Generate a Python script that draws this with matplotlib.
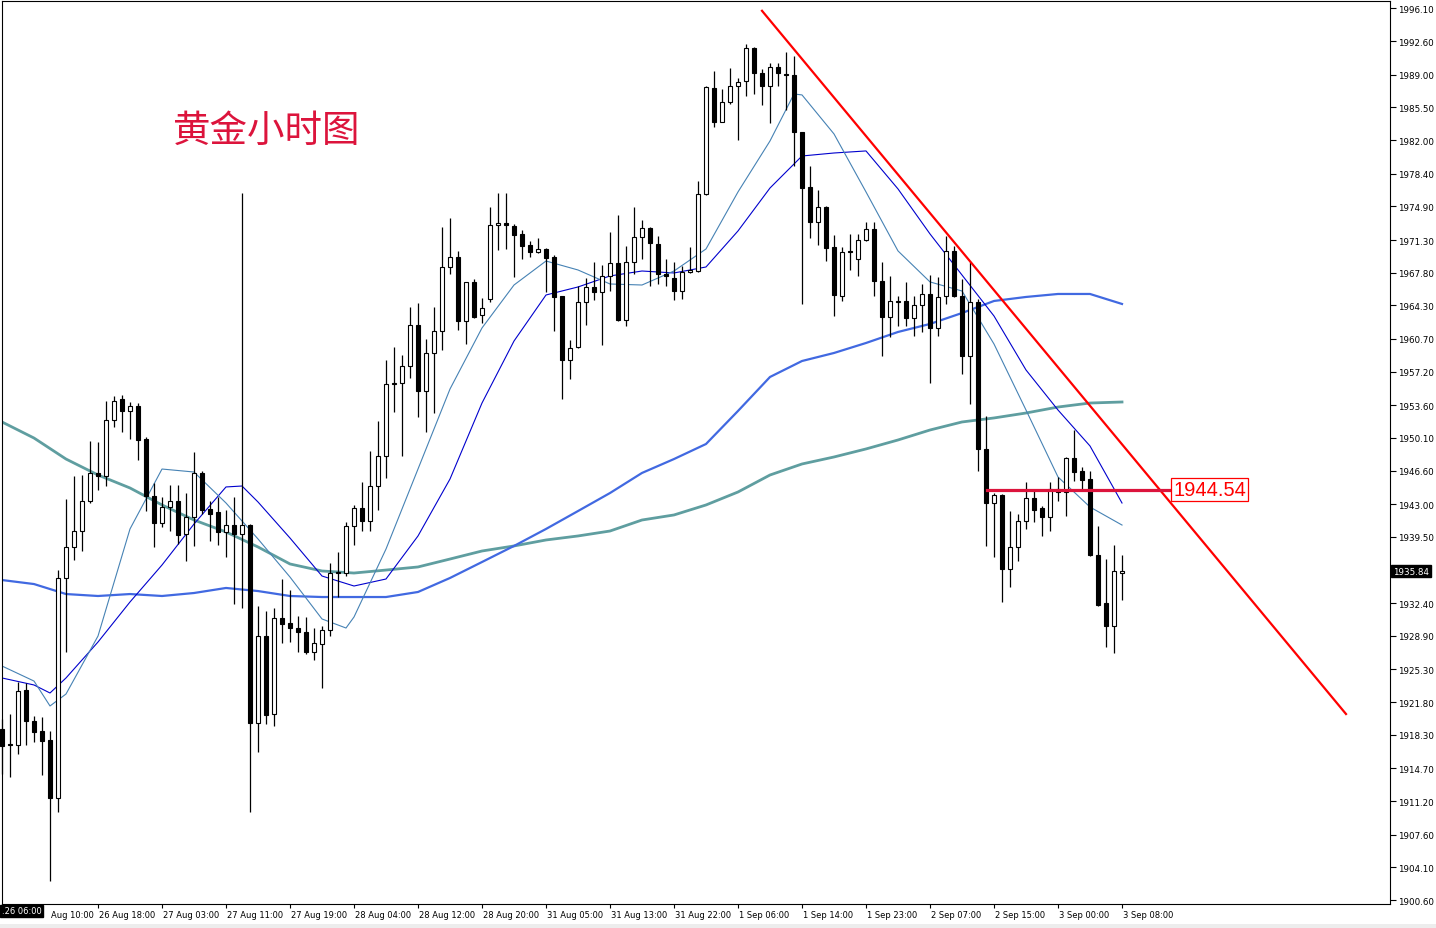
import matplotlib
matplotlib.use("Agg")
import matplotlib.pyplot as plt
from matplotlib.transforms import ScaledTranslation, blended_transform_factory
from matplotlib.patches import Rectangle

# ---------------- data ----------------
opens = [1918.92, 1917.30, 1917.21, 1923.10, 1919.78, 1918.71, 1917.74, 1911.53, 1935.10, 1938.42,
         1940.13, 1943.35, 1946.34, 1946.02, 1952.02, 1954.27, 1952.99, 1953.52, 1949.99, 1943.88,
         1940.99, 1942.70, 1943.35, 1939.81, 1941.63, 1946.34, 1942.49, 1942.17, 1940.02, 1940.77,
         1939.81, 1940.77, 1919.57, 1928.88, 1920.53, 1930.81, 1930.28, 1929.74, 1929.31, 1927.17,
         1928.03, 1929.53, 1935.63, 1935.63, 1940.67, 1942.60, 1941.20, 1944.95, 1948.17, 1955.88,
         1955.95, 1957.81, 1962.20, 1955.13, 1959.20, 1961.56, 1968.41, 1969.48, 1962.63, 1966.81,
         1963.27, 1964.98, 1972.91, 1973.13, 1972.80, 1971.95, 1970.77, 1970.02, 1970.34, 1969.48,
         1965.31, 1958.45, 1959.84, 1964.66, 1966.27, 1965.73, 1967.45, 1968.84, 1962.73, 1968.95,
         1971.63, 1972.59, 1970.88, 1967.66, 1967.23, 1965.84, 1967.88, 1967.98, 1976.23, 1987.59,
         1983.94, 1986.09, 1987.80, 1988.34, 1991.87, 1989.19, 1987.80, 1989.84, 1989.09, 1988.98,
         1982.87, 1976.98, 1973.23, 1974.84, 1970.55, 1965.31, 1970.13, 1969.27, 1971.30, 1972.48,
         1966.91, 1963.06, 1964.70, 1964.77, 1962.95, 1964.34, 1965.52, 1961.88, 1965.31, 1970.13,
         1965.31, 1958.88, 1964.66, 1948.92, 1943.13, 1943.99, 1936.06, 1938.42, 1941.20, 1943.67,
         1942.60, 1941.63, 1944.63, 1944.31, 1947.95, 1946.56, 1945.70, 1937.56, 1932.42, 1929.96,
         1935.64]
highs = [1919.99, 1920.53, 1923.96, 1923.85, 1920.31, 1920.21, 1918.71, 1935.95, 1943.56, 1946.02,
         1946.13, 1949.77, 1949.67, 1954.06, 1954.59, 1954.70, 1953.95, 1953.84, 1950.20, 1945.27,
         1943.77, 1945.06, 1945.06, 1944.20, 1948.59, 1946.56, 1943.35, 1943.77, 1942.38, 1943.77,
         1976.34, 1940.88, 1932.10, 1931.56, 1931.88, 1934.99, 1933.81, 1931.03, 1930.92, 1929.74,
         1929.95, 1936.70, 1937.88, 1941.10, 1942.92, 1945.38, 1948.70, 1951.92, 1958.45, 1959.84,
         1958.99, 1964.13, 1964.56, 1960.70, 1964.13, 1972.70, 1973.66, 1970.13, 1966.85, 1967.13,
         1965.09, 1974.84, 1976.34, 1976.34, 1973.02, 1972.37, 1971.20, 1971.52, 1970.45, 1969.70,
         1965.35, 1960.59, 1966.38, 1967.23, 1968.95, 1968.63, 1972.16, 1973.98, 1970.66, 1974.84,
         1973.45, 1972.70, 1971.73, 1969.27, 1968.95, 1968.52, 1970.55, 1977.62, 1987.80, 1989.41,
         1987.48, 1989.73, 1988.66, 1992.30, 1991.95, 1989.62, 1990.26, 1990.26, 1991.44, 1991.01,
         1982.90, 1979.23, 1976.66, 1974.90, 1971.84, 1970.55, 1971.95, 1971.95, 1973.23, 1973.23,
         1968.95, 1967.45, 1965.31, 1966.81, 1965.31, 1966.59, 1967.55, 1967.34, 1971.73, 1970.66,
         1967.13, 1968.95, 1964.98, 1952.45, 1944.20, 1944.10, 1942.27, 1941.95, 1945.38, 1944.42,
         1942.81, 1945.38, 1945.92, 1948.06, 1950.95, 1946.99, 1946.56, 1940.67, 1937.13, 1938.63,
         1937.56]
lows = [1914.10, 1913.78, 1916.24, 1917.21, 1917.53, 1913.99, 1902.64, 1910.03, 1927.17, 1937.02,
        1937.99, 1943.13, 1944.52, 1944.95, 1951.27, 1950.74, 1949.99, 1947.74, 1942.27, 1938.42,
        1940.56, 1940.13, 1938.74, 1936.92, 1938.53, 1941.95, 1939.06, 1938.63, 1937.35, 1932.31,
        1931.88, 1910.03, 1916.46, 1919.46, 1919.24, 1928.13, 1928.24, 1927.17, 1926.96, 1926.31,
        1923.31, 1928.88, 1933.06, 1935.31, 1938.63, 1940.13, 1940.13, 1942.38, 1945.81, 1952.88,
        1948.17, 1956.52, 1952.34, 1950.74, 1952.77, 1959.52, 1967.66, 1961.66, 1960.16, 1962.95,
        1962.41, 1964.66, 1970.23, 1970.34, 1967.34, 1969.27, 1969.48, 1969.95, 1965.73, 1961.56,
        1954.27, 1956.41, 1959.74, 1962.20, 1964.88, 1960.06, 1965.84, 1962.63, 1962.09, 1967.66,
        1969.27, 1966.38, 1966.59, 1966.38, 1964.88, 1964.98, 1967.80, 1967.90, 1976.15, 1983.41,
        1983.90, 1985.87, 1982.02, 1986.73, 1986.94, 1985.77, 1983.84, 1987.80, 1985.23, 1979.23,
        1964.45, 1971.52, 1970.77, 1969.05, 1963.16, 1964.77, 1968.09, 1967.45, 1971.20, 1965.31,
        1958.88, 1960.91, 1962.09, 1962.09, 1961.02, 1961.45, 1955.99, 1961.02, 1964.45, 1965.20,
        1956.95, 1953.74, 1946.56, 1938.53, 1937.35, 1932.53, 1934.13, 1936.92, 1940.35, 1941.10,
        1939.60, 1940.13, 1943.35, 1941.74, 1945.49, 1944.42, 1937.45, 1932.10, 1927.71, 1927.06,
        1932.74]
closes = [1917.10, 1917.21, 1923.00, 1919.78, 1918.60, 1917.64, 1911.53, 1935.10, 1938.42, 1940.13,
          1943.35, 1946.34, 1946.02, 1952.02, 1954.06, 1952.99, 1953.52, 1949.88, 1943.88, 1940.99,
          1942.70, 1943.35, 1939.70, 1941.63, 1946.34, 1942.38, 1941.95, 1940.02, 1940.77, 1939.81,
          1940.77, 1919.57, 1928.88, 1920.42, 1930.81, 1930.17, 1929.74, 1929.31, 1927.17, 1928.13,
          1929.53, 1935.63, 1935.70, 1940.67, 1942.60, 1941.20, 1944.95, 1948.17, 1955.88, 1955.95,
          1957.81, 1962.20, 1955.13, 1959.20, 1961.56, 1968.41, 1969.48, 1962.63, 1966.81, 1963.06,
          1964.02, 1972.91, 1973.13, 1972.91, 1971.84, 1970.66, 1970.02, 1970.34, 1969.38, 1965.20,
          1958.45, 1959.74, 1964.66, 1966.27, 1965.73, 1967.45, 1968.84, 1962.73, 1968.95, 1971.63,
          1972.59, 1970.98, 1967.66, 1967.45, 1965.84, 1967.88, 1968.09, 1976.23, 1987.69, 1983.94,
          1986.09, 1987.80, 1988.23, 1991.87, 1989.19, 1987.80, 1989.84, 1989.19, 1988.98, 1982.87,
          1976.87, 1973.23, 1974.84, 1970.45, 1965.41, 1970.02, 1970.02, 1971.30, 1972.48, 1966.91,
          1963.06, 1964.77, 1964.77, 1962.95, 1964.34, 1965.52, 1961.88, 1965.20, 1970.13, 1965.31,
          1958.88, 1964.66, 1948.92, 1943.13, 1943.99, 1936.06, 1938.42, 1941.20, 1943.67, 1942.38,
          1941.63, 1944.63, 1944.31, 1947.95, 1946.45, 1945.60, 1937.56, 1932.21, 1929.96, 1935.85,
          1935.84]

# moving averages (bar index, price)
ma_fast_idx = [0, 4, 6, 8, 12, 16, 20, 24, 28, 32, 36, 40, 43, 44, 48, 52, 56, 60, 64, 68, 72, 76,
               80, 84, 88, 92, 96, 99, 100, 104, 108, 112, 116, 120, 124, 128, 132, 136, 140]
ma_fast = [1925.67, 1924.06, 1921.39, 1922.67, 1928.88, 1940.35, 1946.77, 1946.45, 1943.13, 1939.28,
           1935.20, 1930.71, 1929.74, 1930.92, 1938.20, 1946.77, 1955.34, 1961.88, 1966.48, 1969.05,
           1968.09, 1966.59, 1966.48, 1967.98, 1970.34, 1976.45, 1981.91, 1986.94, 1986.84, 1982.66,
           1976.45, 1970.13, 1966.81, 1965.84, 1960.16, 1953.09, 1945.92, 1942.70, 1940.77]
ma_mid_idx = [0, 4, 6, 8, 12, 16, 20, 24, 28, 30, 32, 36, 40, 44, 48, 52, 56, 60, 64, 68, 72, 76,
              80, 84, 88, 92, 96, 100, 104, 108, 112, 116, 120, 124, 128, 132, 136, 140]
ma_mid = [1924.39, 1923.64, 1922.78, 1924.39, 1928.24, 1932.53, 1936.49, 1940.88, 1944.85, 1944.95,
          1943.24, 1939.38, 1935.31, 1934.24, 1934.99, 1939.60, 1945.70, 1953.84, 1960.48, 1965.41,
          1966.27, 1967.45, 1967.98, 1967.77, 1968.41, 1972.27, 1976.87, 1980.30, 1980.62, 1980.84,
          1976.77, 1971.95, 1967.55, 1963.16, 1957.38, 1953.09, 1949.24, 1943.13]
ma_slow_idx = [0, 4, 8, 12, 16, 20, 24, 28, 32, 36, 40, 44, 48, 52, 56, 60, 64, 68, 72, 76, 80, 84,
               88, 92, 96, 100, 104, 108, 112, 116, 120, 124, 128, 132, 136, 140]
ma_long = [1934.88, 1934.45, 1933.38, 1933.17, 1933.38, 1933.17, 1933.49, 1934.03, 1933.70, 1933.17,
           1933.06, 1933.06, 1933.06, 1933.60, 1935.10, 1936.81, 1938.53, 1940.35, 1942.27, 1944.20,
           1946.35, 1947.84, 1949.45, 1952.99, 1956.63, 1958.34, 1959.20, 1960.27, 1961.45, 1962.31,
           1963.48, 1964.77, 1965.20, 1965.52, 1965.52, 1964.45]
ma_vlong = [1951.81, 1950.09, 1947.84, 1946.13, 1944.74, 1942.92, 1941.31, 1940.03, 1938.42, 1936.60,
            1935.85, 1935.63, 1935.95, 1936.28, 1937.13, 1937.99, 1938.53, 1939.17, 1939.60, 1940.13,
            1941.31, 1941.85, 1942.92, 1944.31, 1946.13, 1947.31, 1948.06, 1948.92, 1949.88, 1950.95,
            1951.81, 1952.24, 1952.77, 1953.41, 1953.84, 1953.95]

trend_x = [95, 168]
trend_y = [1995.85, 1920.53]
level_price = 1944.54
level_x = [123.1, 146.0]
last_price = 1935.84

time_tick_idx = [4, 12, 20, 28, 36, 44, 52, 60, 68, 76, 84, 92, 100, 108, 116, 124, 132, 140]
# first label: only "Aug 10:00" is visible (its day number sits under the cursor box)
time_labels = ['Aug 10:00', '26 Aug 18:00', '27 Aug 03:00', '27 Aug 11:00', '27 Aug 19:00',
               '28 Aug 04:00', '28 Aug 12:00', '28 Aug 20:00', '31 Aug 05:00', '31 Aug 13:00',
               '31 Aug 22:00', '1 Sep 06:00', '1 Sep 14:00', '1 Sep 23:00', '2 Sep 07:00',
               '2 Sep 15:00', '3 Sep 00:00', '3 Sep 08:00']
price_ticks = [1996.10, 1992.60, 1989.00, 1985.50, 1982.00, 1978.40, 1974.90, 1971.30, 1967.80,
               1964.30, 1960.70, 1957.20, 1953.60, 1950.10, 1946.60, 1943.00, 1939.50, 1932.40,
               1928.90, 1925.30, 1921.80, 1918.30, 1914.70, 1911.20, 1907.60, 1904.10, 1900.60]
title = '黄金小时图'
cursor_label = '.26 06:00'

# ---------------- figure ----------------
W, H = 1436, 929
fig = plt.figure(figsize=(W / 100, H / 100), dpi=100)
fig.patch.set_facecolor('white')
ax = fig.add_axes([2 / W, 24 / H, 1388 / W, 903 / H])
ax.set_xlim(0, 173.5)
ax.set_ylim(1900.18, 1996.90)
for s in ax.spines.values():
    s.set_color('black')
    s.set_linewidth(0.8)

# moving averages
ax.plot(ma_slow_idx, ma_vlong, color='#5F9EA0', lw=2.0, zorder=1, solid_joinstyle='round')
ax.plot(ma_slow_idx, ma_long, color='#4169E1', lw=1.6, zorder=1, solid_joinstyle='round')
ax.plot(ma_mid_idx, ma_mid, color='#0000CD', lw=0.8, zorder=2)
ax.plot(ma_fast_idx, ma_fast, color='#4682B4', lw=0.8, zorder=2)

# candles
n = len(opens)
xs = list(range(n))
ax.vlines(xs, lows, highs, color='black', lw=0.9, zorder=3, clip_on=False)
bottoms = [min(o, c) for o, c in zip(opens, closes)]
heights = [max(abs(c - o), 0.06) for o, c in zip(opens, closes)]
fcs = ['white' if c > o else 'black' for o, c in zip(opens, closes)]
bars = ax.bar(xs, heights, bottom=bottoms, width=0.62, color=fcs, edgecolor='black',
              linewidth=0.8, zorder=4)
for b in bars:
    b.set_clip_on(False)

# trend line and level
ax.plot(trend_x, trend_y, color='#FF0000', lw=1.6, zorder=5)
ax.plot(level_x, [level_price, level_price], color='#DC143C', lw=2.3, zorder=5)
ax.text(146.4, level_price, f'{level_price:.2f}', color='#FF0000', fontsize=14.5,
        family=['Liberation Sans', 'DejaVu Sans'], ha='left', va='center', zorder=6,
        bbox=dict(boxstyle='square,pad=0.1', fc='white', ec='#FF0000', lw=0.9))

# title
fig.text(173 / W, 1 - 131 / H, title, fontsize=27, color='#DC143C',
         family=['Noto Sans CJK SC', 'DejaVu Sans'], ha='left', va='center')

# y axis on right
ax.yaxis.tick_right()
ax.set_yticks(price_ticks)
ax.set_yticklabels([f'{v:.2f}' for v in price_ticks])
ax.tick_params(axis='y', direction='out', length=4, width=0.8, pad=2, labelsize=6.3,
               colors='black')

# current price label
tr = blended_transform_factory(ax.transAxes, ax.transData)
ax.text(1.0 + 3 / 1388, last_price, f'{last_price:.2f}', transform=tr, color='white',
        fontsize=6.3, ha='left', va='center', clip_on=False, zorder=10,
        bbox=dict(boxstyle='square,pad=0.2', fc='black', ec='black'))

# x axis
ax.set_xticks(time_tick_idx)
ax.set_xticklabels(time_labels)
ax.tick_params(axis='x', direction='out', length=3, width=0.8, pad=1, labelsize=6.0,
               colors='black')
for k, lab in enumerate(ax.get_xticklabels()):
    dx = (12 if k == 0 else 1) / 72
    lab.set_horizontalalignment('left')
    lab.set_transform(lab.get_transform() + ScaledTranslation(dx, 0, fig.dpi_scale_trans))

# cursor time label at bottom left
fig.text(2 / W, 1 - 912 / H, cursor_label, color='white', fontsize=6.0, ha='left',
         va='center', bbox=dict(boxstyle='square,pad=0.2', fc='black', ec='black'), zorder=10)

# light grey strip at bottom
fig.patches.append(Rectangle((0, 0), 1, 4 / H, transform=fig.transFigure,
                             facecolor='#EDEDED', edgecolor='none'))

fig.savefig('out.png', dpi=100)
